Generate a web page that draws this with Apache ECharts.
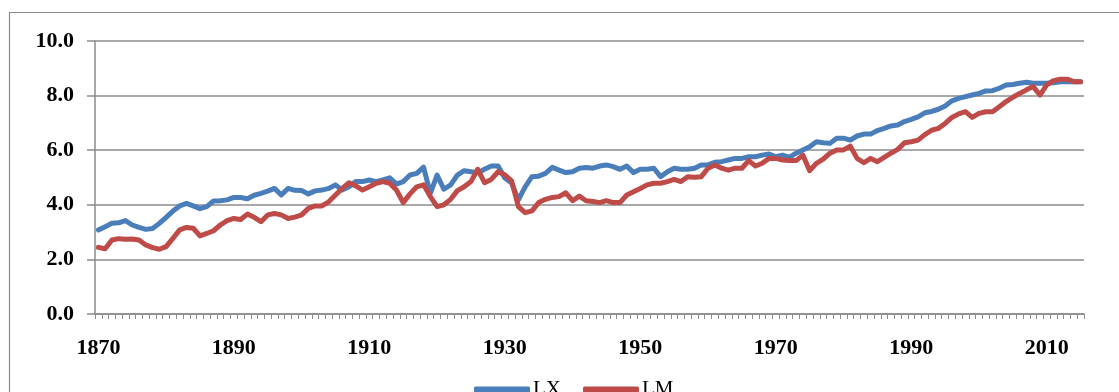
<!DOCTYPE html>
<html>
<head>
<meta charset="utf-8">
<script src="https://cdn.jsdelivr.net/npm/echarts@6/dist/echarts.min.js"></script>
<style>
html,body{margin:0;padding:0;background:#fff;}
#chart{width:1119px;height:392px;}
</style>
</head>
<body>
<div id="chart"></div>
<script>
const startYear = 1870;
const endYear = 2015;
const seriesNames = ['LX', 'LM'];
const yTicks = [0, 2, 4, 6, 8, 10];

const LX = [
  3.08, 3.20, 3.32, 3.34, 3.42, 3.26, 3.17, 3.10, 3.13, 3.32,
  3.54, 3.77, 3.96, 4.05, 3.96, 3.86, 3.93, 4.14, 4.15, 4.18,
  4.27, 4.27, 4.22, 4.35, 4.42, 4.50, 4.60, 4.36, 4.60, 4.53,
  4.52, 4.40, 4.51, 4.54, 4.60, 4.73, 4.54, 4.66, 4.85, 4.85,
  4.91, 4.85, 4.91, 4.99, 4.76, 4.85, 5.09, 5.15, 5.38, 4.42,
  5.09, 4.57, 4.73, 5.09, 5.25, 5.21, 5.17, 5.30, 5.42, 5.42,
  4.98, 4.80, 4.18, 4.66, 5.03, 5.05, 5.15, 5.37, 5.27, 5.18,
  5.21, 5.34, 5.37, 5.34, 5.42, 5.46, 5.40, 5.30, 5.42, 5.18,
  5.30, 5.30, 5.34, 5.03, 5.21, 5.34, 5.30, 5.30, 5.34, 5.46,
  5.46, 5.56, 5.58, 5.64, 5.70, 5.70, 5.76, 5.76, 5.82, 5.86,
  5.76, 5.82, 5.74, 5.89, 6.01, 6.13, 6.31, 6.27, 6.25, 6.44,
  6.44, 6.37, 6.52, 6.59, 6.59, 6.72, 6.80, 6.89, 6.92, 7.05,
  7.13, 7.22, 7.37, 7.42, 7.50, 7.62, 7.81, 7.90, 7.96, 8.02,
  8.08, 8.17, 8.18, 8.27, 8.39, 8.41, 8.45, 8.49, 8.45, 8.45,
  8.45, 8.47, 8.51, 8.51, 8.51, 8.51
];

const LM = [
  2.44, 2.39, 2.71, 2.76, 2.74, 2.75, 2.71, 2.53, 2.43, 2.37,
  2.47, 2.77, 3.08, 3.17, 3.14, 2.86, 2.95, 3.05, 3.26, 3.42,
  3.50, 3.46, 3.66, 3.54, 3.38, 3.63, 3.68, 3.63, 3.50, 3.55,
  3.63, 3.87, 3.96, 3.96, 4.11, 4.36, 4.60, 4.81, 4.69, 4.54,
  4.66, 4.79, 4.85, 4.79, 4.54, 4.08, 4.40, 4.66, 4.73, 4.30,
  3.93, 4.00, 4.20, 4.52, 4.66, 4.85, 5.30, 4.81, 4.93, 5.21,
  5.10, 4.88, 3.93, 3.71, 3.78, 4.08, 4.20, 4.27, 4.30, 4.44,
  4.15, 4.32, 4.15, 4.12, 4.08, 4.15, 4.08, 4.08, 4.36, 4.48,
  4.60, 4.73, 4.79, 4.79, 4.85, 4.93, 4.85, 5.03, 5.01, 5.03,
  5.34, 5.46, 5.34, 5.27, 5.34, 5.34, 5.62, 5.42, 5.52, 5.70,
  5.70, 5.64, 5.62, 5.62, 5.82, 5.25, 5.52, 5.67, 5.89, 6.01,
  6.01, 6.15, 5.70, 5.54, 5.70, 5.58, 5.74, 5.89, 6.03, 6.27,
  6.31, 6.37, 6.57, 6.73, 6.80, 6.98, 7.20, 7.33, 7.41, 7.20,
  7.35, 7.41, 7.41, 7.59, 7.78, 7.94, 8.08, 8.21, 8.33, 8.02,
  8.39, 8.55, 8.60, 8.60, 8.51, 8.51
];

const years = [];
for (let y = startYear; y <= endYear; y++) years.push(String(y));

const serif = '"Liberation Serif", "Times New Roman", serif';
const chart = echarts.init(document.getElementById('chart'), null, {renderer: 'canvas'});

chart.setOption({
  animation: false,
  backgroundColor: '#ffffff',
  graphic: [{
    type: 'rect',
    shape: {x: 9.5, y: 12.5, width: 1300, height: 600},
    style: {fill: 'none', stroke: '#8c8c8c', lineWidth: 1.2},
    silent: true,
    z: -1
  }],
  grid: {left: 95, right: 35, top: 41, bottom: 78, containLabel: false},
  legend: {
    data: seriesNames,
    top: 379,
    left: 474,
    itemWidth: 56,
    itemHeight: 6,
    itemGap: 22,
    icon: 'roundRect',
    padding: 0,
    textStyle: {fontFamily: serif, fontSize: 21, color: '#000', padding: [0, 0, 7, -2]}
  },
  xAxis: {
    type: 'category',
    data: years,
    boundaryGap: true,
    axisLine: {lineStyle: {color: '#8c8c8c', width: 1.5}},
    axisTick: {show: true, interval: 0, length: 5, lineStyle: {color: '#8c8c8c', width: 1}},
    axisLabel: {
      interval: 19,
      margin: 23,
      fontFamily: serif,
      fontWeight: 'bold',
      fontSize: 22,
      color: '#000'
    },
    splitLine: {show: false}
  },
  yAxis: {
    type: 'value',
    min: yTicks[0],
    max: yTicks[yTicks.length - 1],
    interval: 2,
    axisLine: {show: true, lineStyle: {color: '#8c8c8c', width: 1.5}},
    axisTick: {show: true, length: 8, lineStyle: {color: '#8c8c8c', width: 1.5}},
    axisLabel: {
      margin: 21,
      fontFamily: serif,
      fontWeight: 'bold',
      fontSize: 22,
      color: '#000',
      formatter: v => v.toFixed(1)
    },
    splitLine: {show: true, lineStyle: {color: '#8c8c8c', width: 1.6}}
  },
  series: [
    {
      name: seriesNames[0],
      type: 'line',
      data: LX,
      showSymbol: false,
      symbol: 'none',
      color: '#4a7ebb',
      lineStyle: {color: '#4a7ebb', width: 5, join: 'round', cap: 'round'},
      z: 2
    },
    {
      name: seriesNames[1],
      type: 'line',
      data: LM,
      showSymbol: false,
      symbol: 'none',
      color: '#be4b48',
      lineStyle: {color: '#be4b48', width: 5, join: 'round', cap: 'round'},
      z: 3
    }
  ]
});
</script>
</body>
</html>
